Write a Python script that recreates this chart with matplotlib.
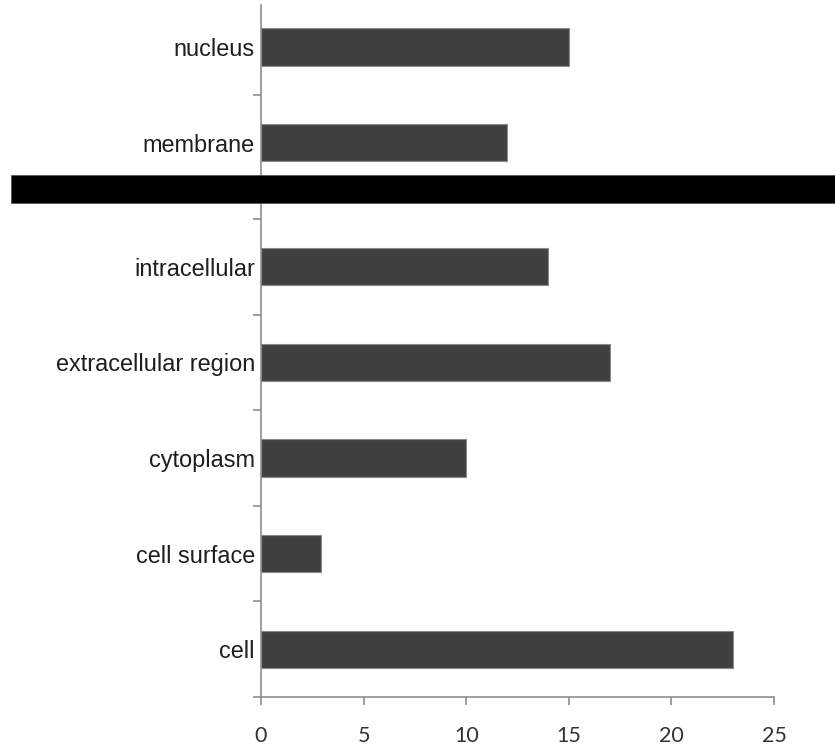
"""
Horizontal bar chart of cellular component counts, with the redaction band
that covers the spliced-out row in the original figure.
"""

import numpy as np
import matplotlib
matplotlib.use("Agg")
import matplotlib.pyplot as plt
from matplotlib.patches import Rectangle

# data (bottom to top)
categories = ["cell", "cell surface", "cytoplasm", "extracellular region",
              "intracellular", "membrane", "nucleus"]
counts = [23, 2.9, 10, 17, 14, 12, 15]
x_ticks = [0, 5, 10, 15, 20, 25]

# the top two rows sit a little higher: a hidden row was cut out there
SPLICE_INDEX = 5
SPLICE_GAP = 0.298

plt.rcParams["font.family"] = ["Liberation Sans", "DejaVu Sans"]

BAR_COLOR = "#404040"
AXIS_COLOR = "#858585"


def row_positions(n: int) -> np.ndarray:
    pos = np.arange(n, dtype=float)
    pos[SPLICE_INDEX:] += SPLICE_GAP
    return pos


def main() -> None:
    fig = plt.figure(figsize=(8.35, 7.46), dpi=100)
    ax = fig.add_axes([0.3126, 0.0657, 0.927 - 0.3126, 0.9933 - 0.0657])

    y = row_positions(len(categories))
    ax.barh(y, counts, height=0.39, color=BAR_COLOR,
            edgecolor="#8a8a8a", linewidth=0.8, zorder=3)

    ax.set_xlim(0, 25)
    ax.set_ylim(-0.5, y[-1] + 0.44)

    # spines
    for side in ("top", "right"):
        ax.spines[side].set_visible(False)
    for side in ("left", "bottom"):
        ax.spines[side].set_color(AXIS_COLOR)
        ax.spines[side].set_linewidth(1.1)

    # x axis
    ax.set_xticks(x_ticks)
    ax.set_xticklabels([str(t) for t in x_ticks], family=["Lato", "DejaVu Sans"])
    ax.tick_params(axis="x", direction="out", length=6, width=1.1,
                   color=AXIS_COLOR, labelsize=15.5, labelcolor="#333333", pad=15)

    # y axis: boundary ticks (major) and labels at bar centres (minor)
    boundaries = list(np.arange(-0.5, SPLICE_INDEX - 0.4, 1.0)) + [y[-2] + 0.5]
    ax.set_yticks(boundaries)
    ax.set_yticklabels([])
    ax.set_yticks(y, minor=True)
    ax.set_yticklabels(categories, minor=True)
    ax.tick_params(axis="y", which="major", direction="out", length=6,
                   width=1.1, color=AXIS_COLOR)
    ax.tick_params(axis="y", which="minor", length=0, pad=4.5,
                   labelsize=16.9, labelcolor="#1e1e1e")

    # redaction band across the figure
    band_bottom = 1 - 203 / 746
    band_top = 1 - 175 / 746
    fig.patches.append(Rectangle((11 / 835, band_bottom), 1.0, band_top - band_bottom,
                                 transform=fig.transFigure, facecolor="black",
                                 edgecolor="#555555", linewidth=0.6, zorder=10))

    fig.savefig("out.png", dpi=100)
    plt.close(fig)


if __name__ == "__main__":
    main()
